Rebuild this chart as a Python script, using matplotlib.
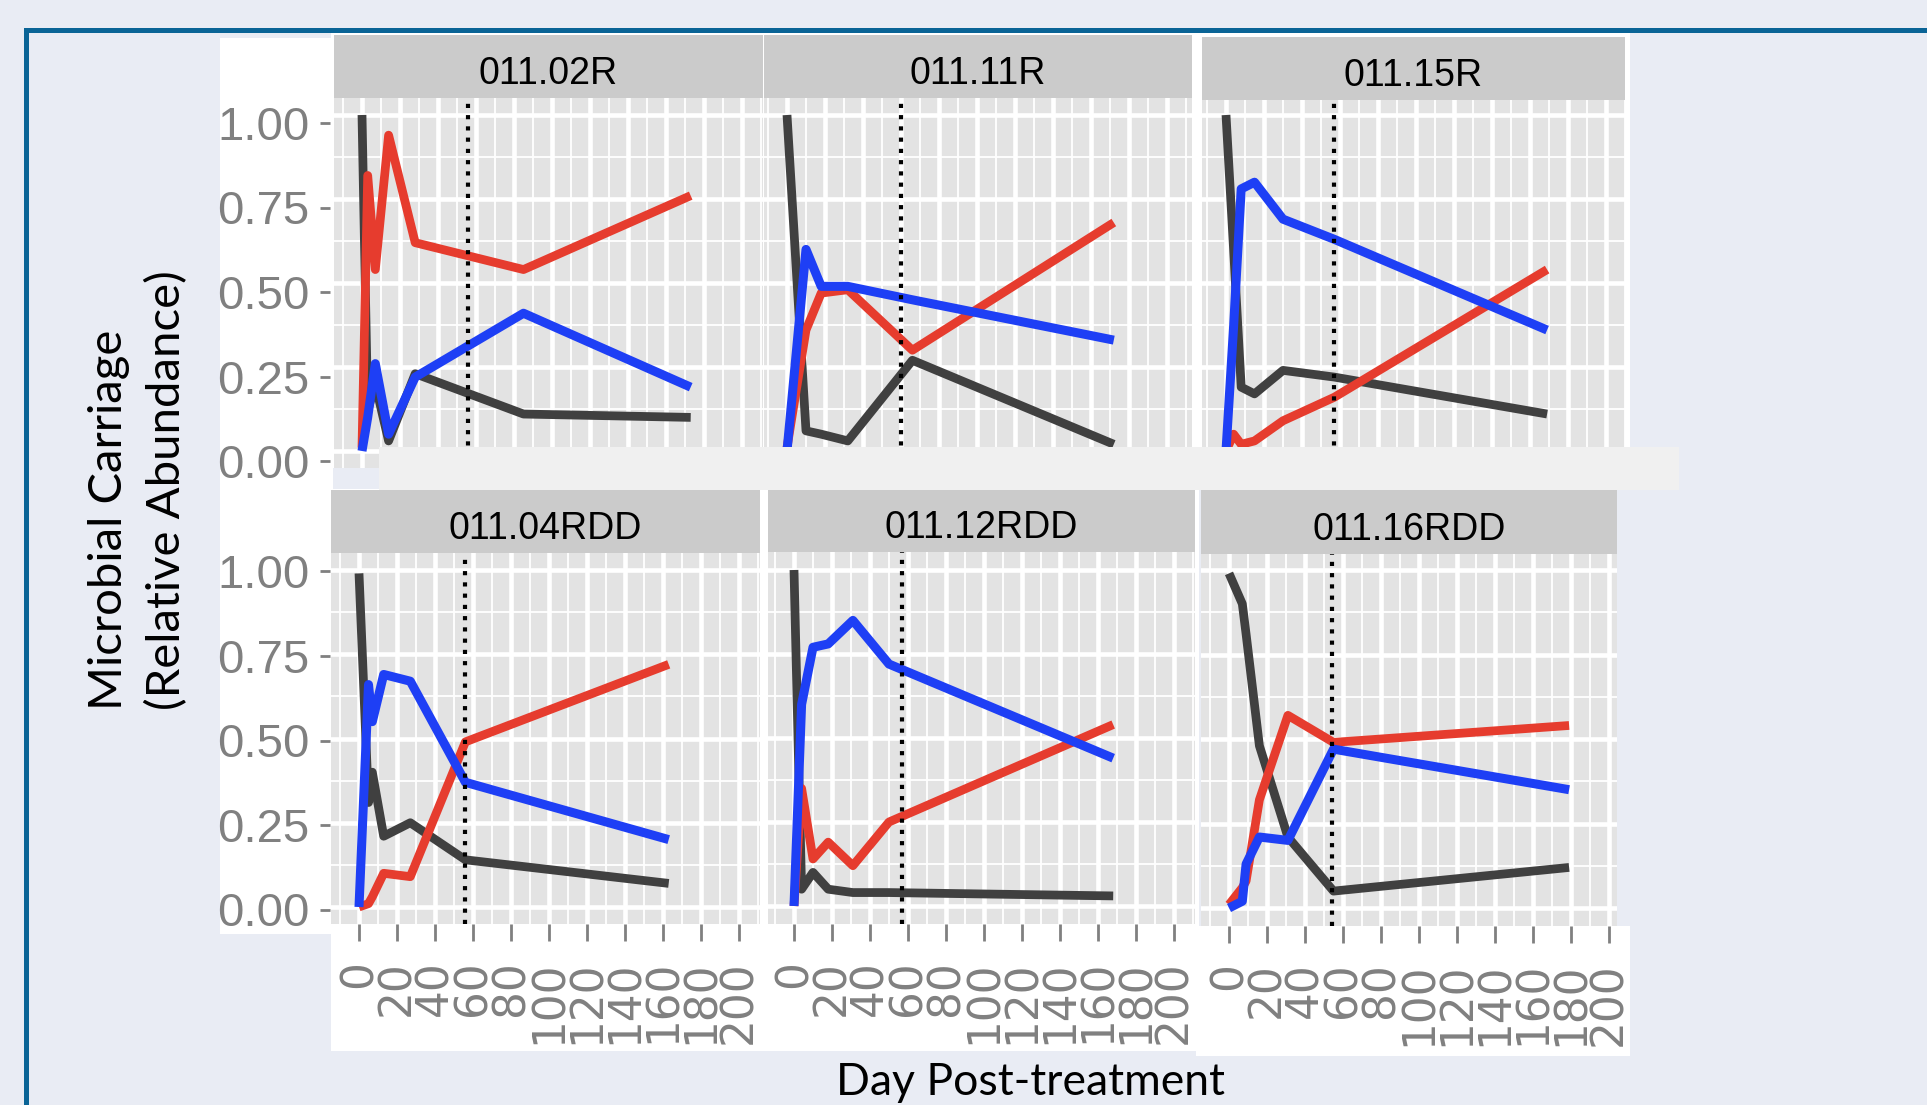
import matplotlib.pyplot as plt
from matplotlib.patches import Rectangle
from matplotlib.lines import Line2D
from matplotlib.ticker import MultipleLocator

W, H = 1927, 1105

# 환자별 상대 풍부도 (day, 검정 / 빨강 / 파랑)
days_02R = [0, 3, 7, 14, 28, 85, 173]
dark_02R = [1.00, 0.12, 0.20, 0.03, 0.23, 0.11, 0.10]
red_02R = [0.01, 0.82, 0.54, 0.94, 0.62, 0.54, 0.76]
blue_02R = [0.00, 0.10, 0.26, 0.05, 0.22, 0.41, 0.19]

days_11R = [0, 10, 18, 32, 66, 172]
dark_11R = [1.00, 0.06, 0.05, 0.03, 0.27, 0.02]
red_11R = [0.01, 0.36, 0.47, 0.48, 0.30, 0.68]
blue_11R = [0.00, 0.60, 0.49, 0.49, 0.45, 0.33]

days_15R = [0, 4, 8, 15, 30, 57, 169]
dark_15R = [1.00, 0.60, 0.19, 0.17, 0.24, 0.22, 0.11]
red_15R = [0.00, 0.05, 0.02, 0.03, 0.09, 0.16, 0.54]
blue_15R = [0.00, 0.37, 0.78, 0.80, 0.69, 0.63, 0.36]

days_04RDD = [0, 5, 7, 13, 27, 56, 163]
dark_04RDD = [0.99, 0.31, 0.40, 0.21, 0.25, 0.14, 0.07]
red_04RDD = [0.00, 0.01, 0.03, 0.10, 0.09, 0.49, 0.72]
blue_04RDD = [0.00, 0.66, 0.55, 0.69, 0.67, 0.37, 0.20]

days_12RDD = [0, 4, 10, 18, 31, 50, 168]
dark_12RDD = [1.00, 0.05, 0.10, 0.05, 0.04, 0.04, 0.03]
red_12RDD = [0.00, 0.35, 0.14, 0.19, 0.12, 0.25, 0.54]
blue_12RDD = [0.00, 0.60, 0.77, 0.78, 0.85, 0.72, 0.44]

days_16RDD = [0, 7, 9, 16, 31, 55, 179]
dark_16RDD = [0.99, 0.90, 0.81, 0.48, 0.21, 0.05, 0.12]
red_16RDD = [0.01, 0.06, 0.08, 0.32, 0.57, 0.49, 0.54]
blue_16RDD = [0.00, 0.02, 0.13, 0.21, 0.20, 0.47, 0.35]

panel_names = ["011.02R", "011.11R", "011.15R", "011.04RDD", "011.12RDD", "011.16RDD"]
treat_day = [56, 60, 57, 56, 57, 54]
x_breaks = list(range(0, 201, 20))
y_breaks = [0.00, 0.25, 0.50, 0.75, 1.00]
y_labels = ["0.00", "0.25", "0.50", "0.75", "1.00"]

series = [
    (days_02R, dark_02R, red_02R, blue_02R),
    (days_11R, dark_11R, red_11R, blue_11R),
    (days_15R, dark_15R, red_15R, blue_15R),
    (days_04RDD, dark_04RDD, red_04RDD, blue_04RDD),
    (days_12RDD, dark_12RDD, red_12RDD, blue_12RDD),
    (days_16RDD, dark_16RDD, red_16RDD, blue_16RDD),
]

# 패널 배치 (픽셀): left, right, strip_top, plot_top, plot_bottom, x=0 위치, y=1 위치, y=0 위치
layout = [
    (334, 763, 35, 98, 468, 362, 115, 451),
    (764, 1192, 35, 98, 468, 787, 115, 451),
    (1202, 1625, 37, 100, 468, 1226, 115, 451),
    (331, 760, 490, 553, 924, 359, 570, 907),
    (768, 1195, 490, 552, 924, 794, 570, 906),
    (1201, 1617, 489, 554, 926, 1229, 570, 908),
]
PX_PER_DAY = 1.9

BG = "#e9ecf4"
DARK = "#404040"
RED = "#e63c2e"
BLUE = "#1e3ff5"
TICK_GREY = "#808080"
NARROW = ["Liberation Sans Narrow", "Liberation Sans", "DejaVu Sans"]


def box(x0, y0, x1, y1):
    return [x0 / W, 1 - y1 / H, (x1 - x0) / W, (y1 - y0) / H]


def rect(x0, y0, x1, y1, color, z):
    fig.add_artist(Rectangle((x0 / W, 1 - y1 / H), (x1 - x0) / W, (y1 - y0) / H,
                             transform=fig.transFigure, facecolor=color,
                             edgecolor="none", zorder=z))


fig = plt.figure(figsize=(W / 100, H / 100), dpi=100)
fig.patch.set_facecolor(BG)

# 슬라이드 테두리
fig.add_artist(Line2D([26 / W, 26 / W, 1.0], [0.0, 1 - 30 / H, 1 - 30 / H],
                      transform=fig.transFigure, color="#0a6496", lw=3.6,
                      solid_joinstyle="miter", zorder=1))

# 흰 배경 블록들
rect(220, 38, 333, 934, "white", -1)
rect(331, 32, 1630, 468, "white", -1)
rect(331, 489, 1199, 1051, "white", -1)
rect(1196, 926, 1630, 1056, "white", -1)
rect(379, 447, 1679, 490, "#f0f0f0", 2)

# y축 눈금 라벨 (위/아래)
for top, bottom in [(123, 461), (571.5, 909.5)]:
    lab = fig.add_axes(box(330, top, 333, bottom))
    lab.patch.set_visible(False)
    for sp in lab.spines.values():
        sp.set_visible(False)
    lab.set_ylim(0, 1)
    lab.set_xticks([])
    lab.set_yticks(y_breaks, y_labels)
    lab.tick_params(axis="y", length=7.5, width=2, color=TICK_GREY,
                    labelcolor=TICK_GREY, labelsize=34, pad=7)
    for t in lab.get_yticklabels():
        t.set_family(NARROW)

for i, name in enumerate(panel_names):
    left, right, s_top, p_top, p_bot, x0, y1, y0 = layout[i]
    days, dark, red, blue = series[i]

    ax = fig.add_axes(box(left, p_top, right, p_bot))
    ax.set_facecolor("#e3e3e3")
    for sp in ax.spines.values():
        sp.set_visible(False)
    ax.set_xlim((left - x0) / PX_PER_DAY, (right - x0) / PX_PER_DAY)
    ax.set_ylim((y0 - p_bot) / (y0 - y1), (y0 - p_top) / (y0 - y1))

    ax.xaxis.set_major_locator(MultipleLocator(20))
    ax.xaxis.set_minor_locator(MultipleLocator(10))
    ax.yaxis.set_major_locator(MultipleLocator(0.25))
    ax.yaxis.set_minor_locator(MultipleLocator(0.125))
    ax.grid(which="major", color="white", lw=3.3)
    ax.grid(which="minor", color="white", lw=1.3)
    ax.set_axisbelow(True)
    ax.tick_params(axis="y", which="both", length=0, labelleft=False)
    ax.tick_params(axis="x", which="minor", length=0)

    if i < 3:
        ax.tick_params(axis="x", which="major", length=0, labelbottom=False)
    else:
        ax.set_xticks(x_breaks, [str(v) for v in x_breaks], rotation=90)
        ax.tick_params(axis="x", which="major", length=12, width=2,
                       color=TICK_GREY, labelcolor=TICK_GREY, labelsize=31.5, pad=14)

    ax.plot(days, dark, color=DARK, lw=6.3, solid_joinstyle="round", solid_capstyle="butt")
    ax.plot(days, red, color=RED, lw=6.3, solid_joinstyle="round", solid_capstyle="butt")
    ax.plot(days, blue, color=BLUE, lw=6.5, solid_joinstyle="round", solid_capstyle="butt")
    ax.axvline(treat_day[i], color="black", lw=3.0, linestyle=(0, (1.0, 1.7)), zorder=3)

    strip = fig.add_axes(box(left, s_top, right, p_top))
    strip.set_facecolor("#cbcbcb")
    strip.set_xticks([])
    strip.set_yticks([])
    for sp in strip.spines.values():
        sp.set_visible(False)
    strip.text(0.5, 0.22, name, ha="center", va="baseline", fontsize=27,
               family=NARROW, color="black", transform=strip.transAxes)

fig.text(1031 / W, 1 - 1095 / H, "Day Post-treatment", ha="center", va="baseline",
         fontsize=32, family="Lato", color="black")
fig.text(122 / W, 1 - 710 / H, "Microbial Carriage", rotation=90, rotation_mode="anchor",
         ha="left", va="baseline", fontsize=34, family="Lato", color="black")
fig.text(180 / W, 1 - 710 / H, "(Relative Abundance)", rotation=90, rotation_mode="anchor",
         ha="left", va="baseline", fontsize=34, family="Lato", color="black")

plt.savefig("out.png", dpi=100, facecolor=BG)
